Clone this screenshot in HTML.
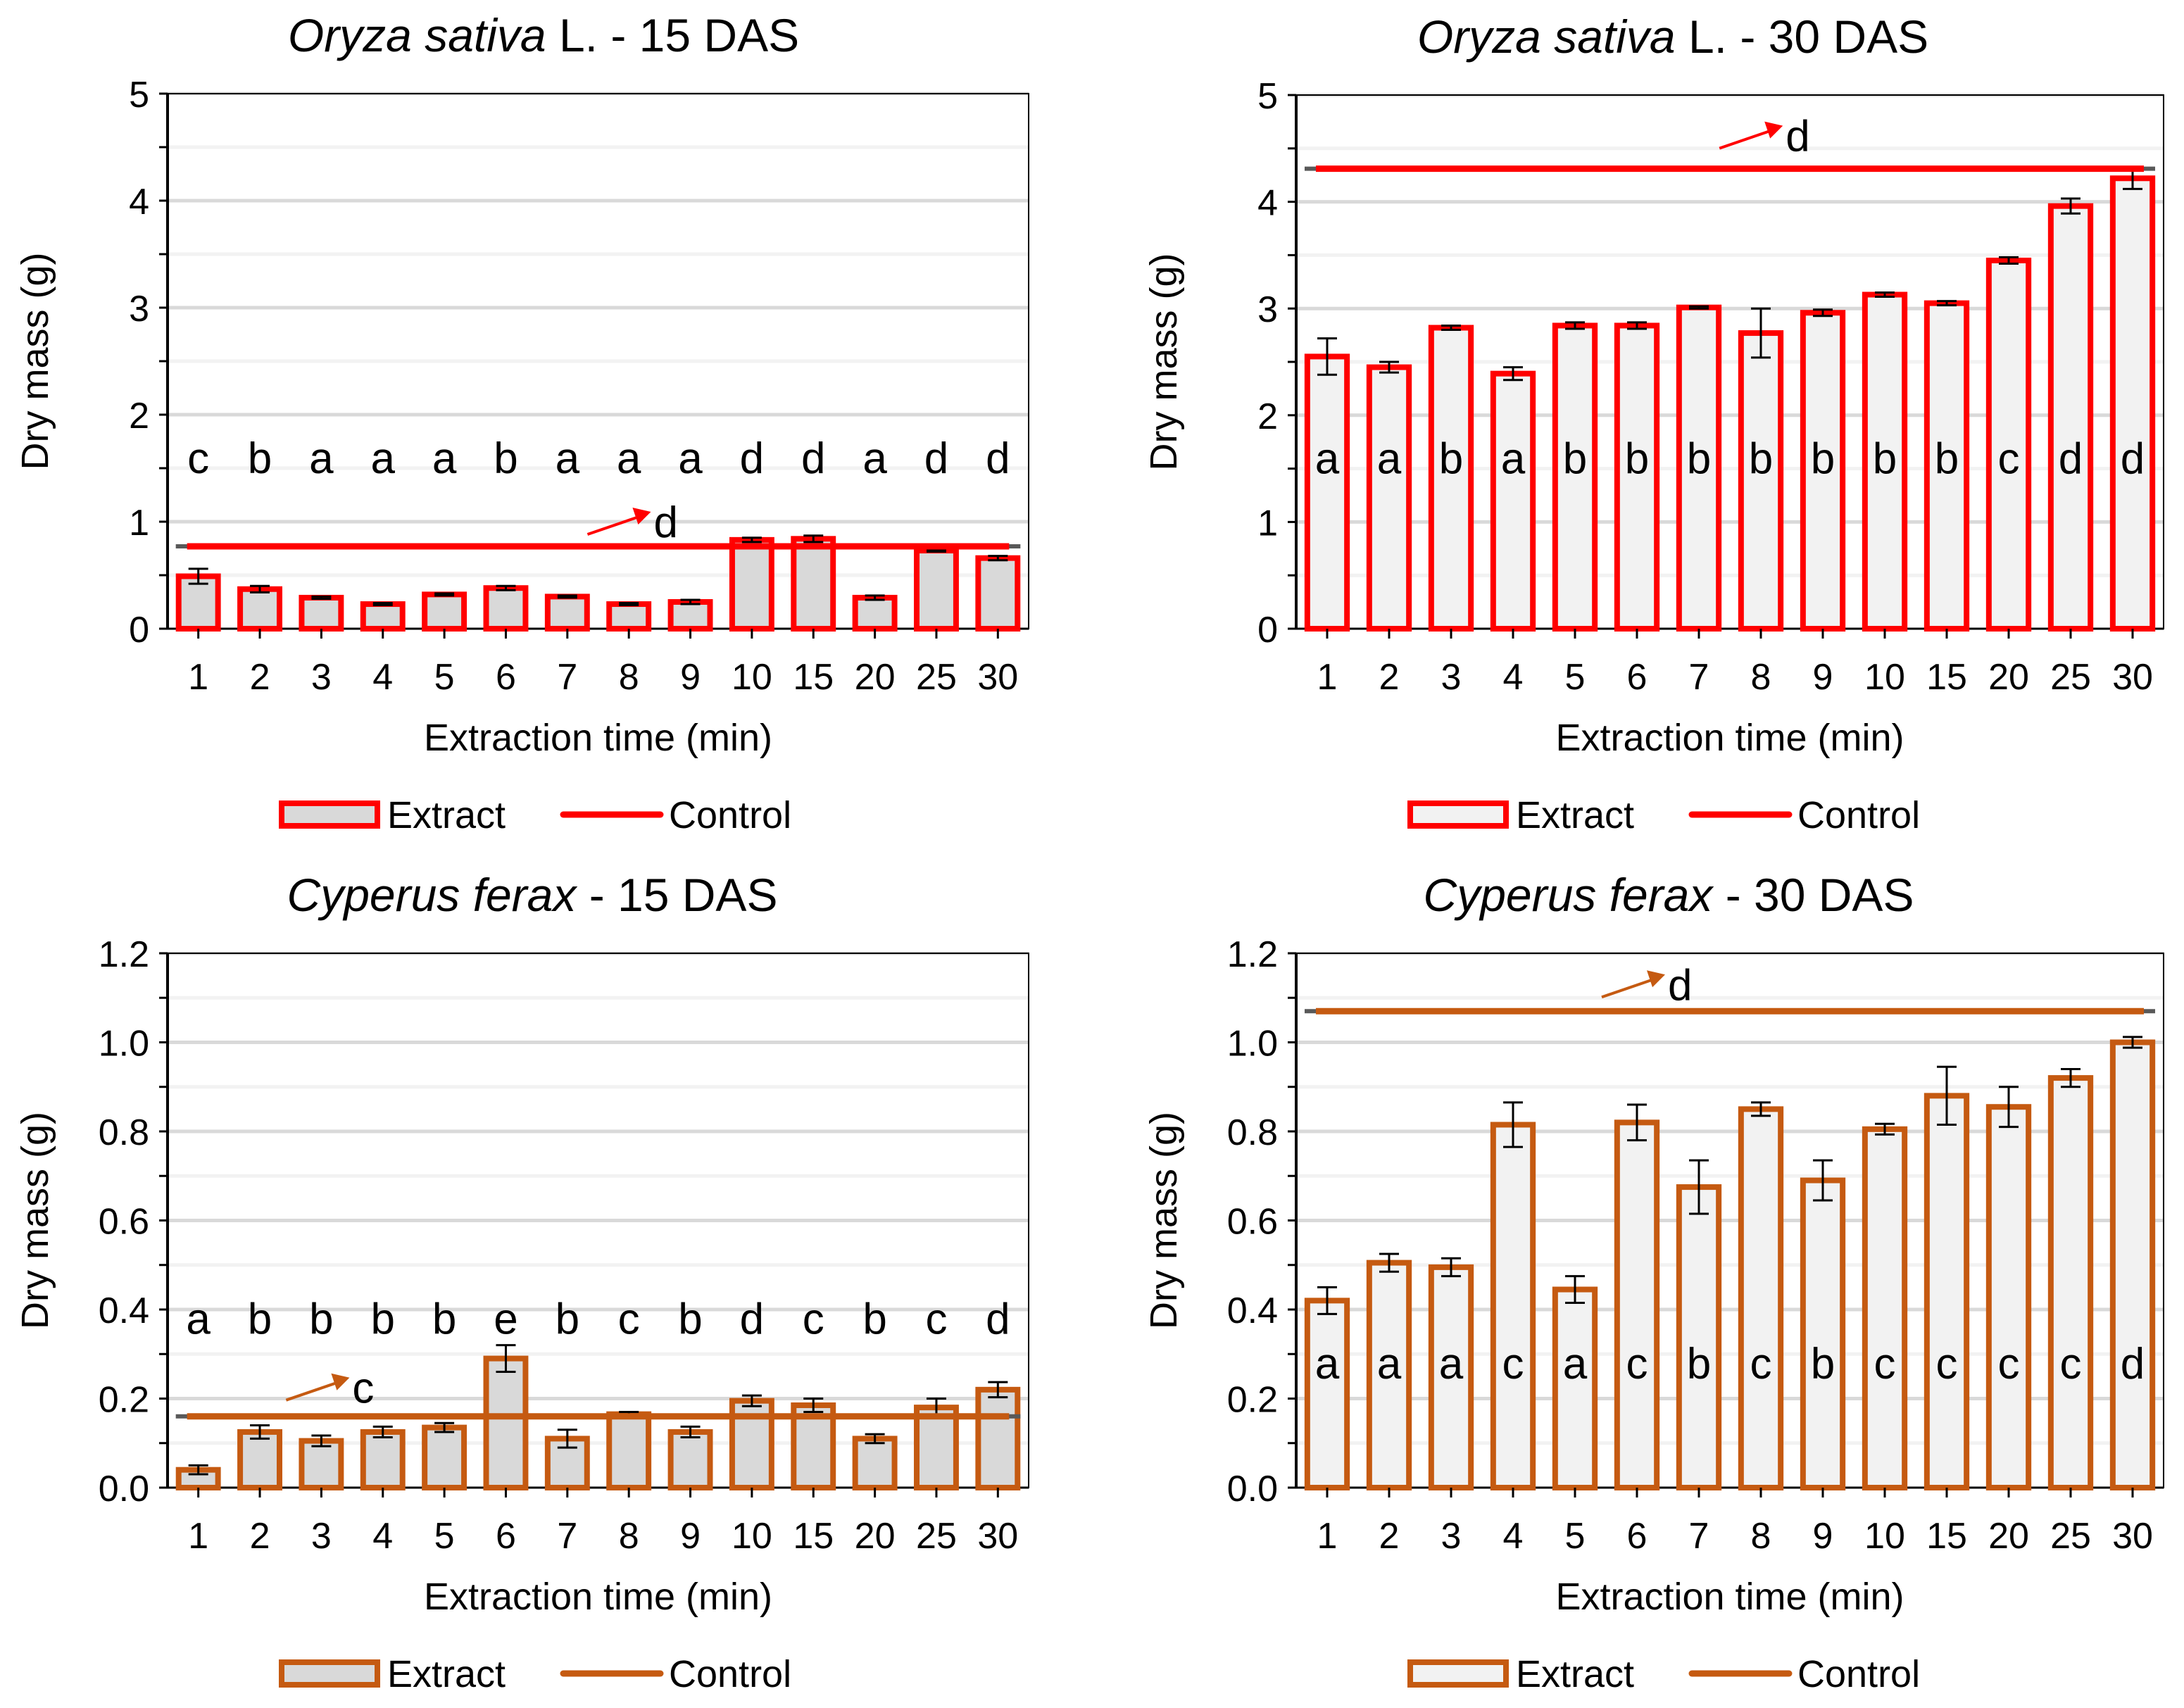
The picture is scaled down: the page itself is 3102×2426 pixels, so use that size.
<!DOCTYPE html>
<html><head><meta charset="utf-8"><style>
html,body{margin:0;padding:0;background:#fff;}
svg{display:block;font-family:"Liberation Sans",Arial,sans-serif;}
</style></head><body>
<svg id="fig" width="3102" height="2426" viewBox="0 0 3102 2426" xmlns="http://www.w3.org/2000/svg"></svg>
<script>
const categories = ["1","2","3","4","5","6","7","8","9","10","15","20","25","30"];
// Oryza sativa 15 DAS
const rice15Values = [0.49,0.37,0.29,0.23,0.32,0.38,0.30,0.23,0.25,0.83,0.84,0.29,0.73,0.66];
const rice15Errors = [0.07,0.03,0.01,0.01,0.01,0.02,0.01,0.01,0.02,0.02,0.03,0.02,0.01,0.02];
const rice15Letters = ["c","b","a","a","a","b","a","a","a","d","d","a","d","d"];
const rice15Control = 0.77;
// Oryza sativa 30 DAS
const rice30Values = [2.55,2.45,2.82,2.39,2.84,2.84,3.01,2.77,2.96,3.13,3.05,3.45,3.96,4.22];
const rice30Errors = [0.17,0.05,0.02,0.06,0.03,0.03,0.01,0.23,0.03,0.02,0.02,0.03,0.07,0.10];
const rice30Letters = ["a","a","b","a","b","b","b","b","b","b","b","c","d","d"];
const rice30Control = 4.31;
// Cyperus ferax 15 DAS
const cyp15Values = [0.04,0.125,0.105,0.125,0.135,0.29,0.11,0.165,0.125,0.195,0.185,0.11,0.18,0.22];
const cyp15Errors = [0.01,0.015,0.012,0.012,0.01,0.03,0.02,0.005,0.012,0.012,0.015,0.01,0.02,0.017];
const cyp15Letters = ["a","b","b","b","b","e","b","c","b","d","c","b","c","d"];
const cyp15Control = 0.16;
// Cyperus ferax 30 DAS
const cyp30Values = [0.42,0.505,0.495,0.815,0.445,0.82,0.675,0.85,0.69,0.805,0.88,0.855,0.92,1.0];
const cyp30Errors = [0.03,0.02,0.02,0.05,0.03,0.04,0.06,0.015,0.045,0.012,0.065,0.045,0.02,0.012];
const cyp30Letters = ["a","a","a","c","a","c","b","c","b","c","c","c","c","d"];
const cyp30Control = 1.07;
const rice15Ticks = ["0","1","2","3","4","5"];
const cypTicks = ["0.0","0.2","0.4","0.6","0.8","1.0","1.2"];

const NS = "http://www.w3.org/2000/svg";
const svg = document.getElementById("fig");
function mk(tag, attrs, parent){
  const e = document.createElementNS(NS, tag);
  for (const k in attrs) e.setAttribute(k, attrs[k]);
  (parent||svg).appendChild(e);
  return e;
}
function panel(o){
  const g = mk("g", {});
  
  
  const L=o.x0, R=o.x1, T=o.y1, B=o.y0;
  const ymax=o.ymax;
  const ys = v => B - (v/ymax)*(B-T);
  const n = categories.length, step=(R-L)/n;
  const xs = i => L + step*(i+0.5);
  const nMinor = o.ticks.length-1;
  for (let k=1;k<=nMinor*2;k++){
    const v = ymax*k/(nMinor*2);
    const gl = mk("line",{x1:L,x2:R,y1:ys(v),y2:ys(v),stroke:k%2?"#f2f2f2":"#d9d9d9","stroke-width":5},g);
    
    
  }
  const fr = mk("rect",{x:L,y:T,width:R-L,height:B-T,fill:"none",stroke:"#000","stroke-width":2},g);
  
  
  mk("line",{x1:L,x2:L,y1:T,y2:B,stroke:"#000","stroke-width":4},g);
  mk("line",{x1:L,x2:R,y1:B,y2:B,stroke:"#000","stroke-width":3},g);
  for (let k=0;k<=nMinor*2;k++){
    const v=ymax*k/(nMinor*2);
    mk("line",{x1:L-12,x2:L,y1:ys(v),y2:ys(v),stroke:"#000","stroke-width":3},g);
  }
  o.ticks.forEach((t,k)=>{
    const v=ymax*k/nMinor;
    const tx = mk("text",{x:L-26,y:ys(v)+19,"font-size":52,"text-anchor":"end",fill:"#000"},g);
    tx.textContent=t;
    
    
  });
  o.values.forEach((v,i)=>{
    const bw = step*0.64;
    const b = mk("rect",{x:xs(i)-bw/2,y:ys(v),width:bw,height:B-ys(v),fill:o.fill,stroke:o.color,"stroke-width":8},g);
    
    
    const e=o.errors[i], cx=xs(i);
    const eb = mk("path",{d:`M${cx-14},${ys(v+e)}H${cx+14}M${cx},${ys(v+e)}V${ys(v-e)}M${cx-14},${ys(v-e)}H${cx+14}`,stroke:"#000","stroke-width":3,fill:"none"},g);
    
    
    mk("line",{x1:cx,x2:cx,y1:B,y2:B+14,stroke:"#000","stroke-width":3},g);
    const xl = mk("text",{x:cx,y:B+86,"font-size":52,"text-anchor":"middle",fill:"#000"},g);
    xl.textContent=categories[i];
    
    
    const lt = mk("text",{x:cx,y:ys(o.letterY)+22,"font-size":62,"text-anchor":"middle",fill:"#000"},g);
    lt.textContent=o.letters[i];
    
    
  });
  const cy = ys(o.control);
  mk("line",{x1:xs(0)-32,x2:xs(n-1)+32,y1:cy,y2:cy,stroke:"#595959","stroke-width":6},g);
  const cl = mk("line",{x1:xs(0)-16,x2:xs(n-1)+16,y1:cy,y2:cy,stroke:o.color,"stroke-width":9},g);
  
  
  const ax = xs(o.arrowIdx), ay = ys(o.arrowY);
  mk("line",{x1:ax-50,y1:ay+18,x2:ax+20,y2:ay-6,stroke:o.color,"stroke-width":4},g);
  mk("polygon",{points:`${ax+40},${ay-14} ${ax+14},${ay-20} ${ax+22},${ay+4}`,fill:o.color},g);
  const ctl = mk("text",{x:ax+44,y:ay+22,"font-size":62,fill:"#000"},g);
  ctl.textContent=o.controlLetter;
  
  
  const tt = mk("text",{x:o.titleX,y:T-60,"font-size":66,"text-anchor":"middle",fill:"#000"},g);
  
  
  const ts1 = mk("tspan",{"font-style":"italic"},tt); ts1.textContent=o.titleIt;
  const ts2 = mk("tspan",{},tt); ts2.textContent=o.titleRest;
  const yt = mk("text",{x:0,y:0,"font-size":54,"text-anchor":"middle",fill:"#000",transform:`translate(${L-170},${(T+B)/2}) rotate(-90)`},g);
  yt.textContent="Dry mass (g)";
  
  
  const xt = mk("text",{x:(L+R)/2,y:B+173,"font-size":54,"text-anchor":"middle",fill:"#000"},g);
  xt.textContent="Extraction time (min)";
  
  
  const ly = B+264, lx=L+162;
  const sw = mk("rect",{x:lx,y:ly-16,width:136,height:32,fill:o.fill,stroke:o.color,"stroke-width":8},g);
  
  
  const le = mk("text",{x:lx+150,y:ly+19,"font-size":54,fill:"#000"},g);
  le.textContent="Extract";
  
  
  const lc = mk("line",{x1:lx+400,x2:lx+538,y1:ly,y2:ly,stroke:o.color,"stroke-width":9,"stroke-linecap":"round"},g);
  
  
  const lct = mk("text",{x:lx+550,y:ly+19,"font-size":54,fill:"#000"},g);
  lct.textContent="Control";
  
  
}
const RED="#ff0000", ORG="#c55a11";
panel({name:"chart-oryza-15",x0:238,x1:1461,y0:893,y1:133,ymax:5,ticks:rice15Ticks,values:rice15Values,errors:rice15Errors,letters:rice15Letters,letterY:1.6,control:rice15Control,controlLetter:"d",arrowIdx:6.9,arrowY:1.0,color:RED,fill:"#d9d9d9",titleX:772,titleIt:"Oryza sativa",titleRest:" L. - 15 DAS"});
panel({name:"chart-oryza-30",x0:1841,x1:3073,y0:893,y1:135,ymax:5,ticks:rice15Ticks,values:rice30Values,errors:rice30Errors,letters:rice30Letters,letterY:1.6,control:rice30Control,controlLetter:"d",arrowIdx:6.9,arrowY:4.62,color:RED,fill:"#f2f2f2",titleX:2376,titleIt:"Oryza sativa",titleRest:" L. - 30 DAS"});
panel({name:"chart-cyperus-15",x0:238,x1:1461,y0:2113,y1:1354,ymax:1.2,ticks:cypTicks,values:cyp15Values,errors:cyp15Errors,letters:cyp15Letters,letterY:0.38,control:cyp15Control,controlLetter:"c",arrowIdx:2.0,arrowY:0.225,color:ORG,fill:"#d9d9d9",titleX:756,titleIt:"Cyperus ferax",titleRest:" - 15 DAS"});
panel({name:"chart-cyperus-30",x0:1841,x1:3073,y0:2113,y1:1354,ymax:1.2,ticks:cypTicks,values:cyp30Values,errors:cyp30Errors,letters:cyp30Letters,letterY:0.28,control:cyp30Control,controlLetter:"d",arrowIdx:5.0,arrowY:1.13,color:ORG,fill:"#f2f2f2",titleX:2370,titleIt:"Cyperus ferax",titleRest:" - 30 DAS"});
</script>
</body></html>
